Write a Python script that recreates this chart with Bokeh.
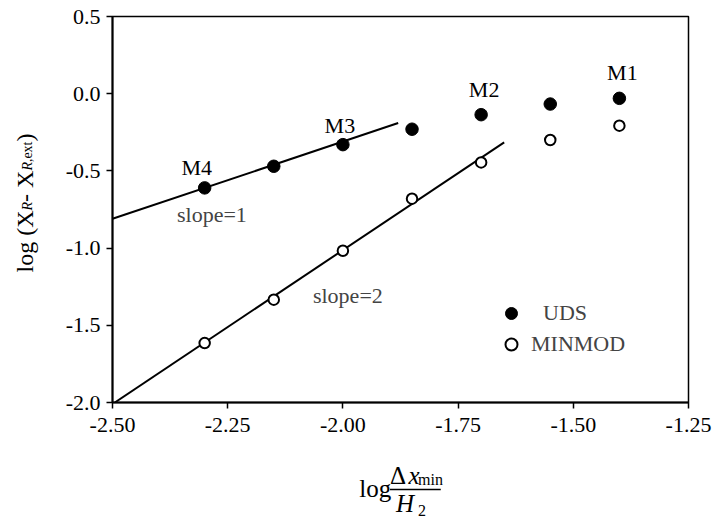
import math
from bokeh.plotting import figure
from bokeh.layouts import row, column
from bokeh.models import FixedTicker, Label, Legend, LegendItem, Range1d
from bokeh.embed import file_html
from bokeh.resources import INLINE

# ---- data ----
x_vals = [-2.30, -2.15, -2.00, -1.85, -1.70, -1.55, -1.40]
uds_y = [-0.61, -0.47, -0.33, -0.23, -0.136, -0.067, -0.03]
minmod_y = [-1.615, -1.334, -1.017, -0.68, -0.445, -0.30, -0.207]
model_names = ["M4", "M3", "M2", "M1"]
model_idx = [0, 2, 4, 6]
fit1_x = [-2.50, -1.88]
fit1_y = [-0.81, -0.19]
fit2_x = [-2.495, -1.65]
fit2_y = [-2.00, -0.315]
x_ticks = [-2.50, -2.25, -2.00, -1.75, -1.50, -1.25]
x_tick_labels = ["-2.50", "-2.25", "-2.00", "-1.75", "-1.50", "-1.25"]
y_ticks = [0.5, 0.0, -0.5, -1.0, -1.5, -2.0]
y_tick_labels = ["0.5", "0.0", "-0.5", "-1.0", "-1.5", "-2.0"]

FONT = "Liberation Serif"
W, H = 714, 519
LW = 56          # width of the y-label strip
MH = 450         # height of the main plot
BL = 8           # baseline correction (px) for alphabetic-baseline labels
XS = 17          # horizontal correction for the x-label strip
YS = 3           # horizontal correction for the y-label strip

# ---------------- main plot ----------------
p = figure(width=W - LW, height=MH, output_backend="svg", toolbar_location=None,
           x_range=Range1d(-2.5, -1.25), y_range=Range1d(-2.0, 0.5),
           min_border_left=112 - LW, min_border_right=26, min_border_top=16,
           min_border_bottom=MH - 402)
p.xgrid.visible = False
p.ygrid.visible = False
p.outline_line_color = "black"
p.outline_line_width = 1.5
p.background_fill_color = "white"
p.border_fill_color = "white"

for ax, ticks, labels in ((p.xaxis[0], x_ticks, x_tick_labels), (p.yaxis[0], y_ticks, y_tick_labels)):
    ax.ticker = FixedTicker(ticks=ticks)
    ax.major_label_overrides = {t: l for t, l in zip(ticks, labels)}
    ax.minor_tick_line_color = None
    ax.major_tick_in = 0
    ax.major_tick_out = 6
    ax.major_tick_line_width = 1.5
    ax.axis_line_width = 2
    ax.axis_line_color = "black"
    ax.major_tick_line_color = "black"
    ax.major_label_text_font = FONT
    ax.major_label_text_font_size = "22px"
    ax.major_label_text_color = "black"
p.xaxis[0].major_label_standoff = 9
p.yaxis[0].major_label_standoff = 6

p.line(fit1_x, fit1_y, line_color="black", line_width=2)
p.line(fit2_x, fit2_y, line_color="black", line_width=2)

r_uds = p.scatter(x_vals, uds_y, marker="circle", size=12.5, fill_color="black", line_color="black")
r_min = p.scatter(x_vals, minmod_y, marker="circle", size=10.5, fill_color="white",
                  line_color="black", line_width=2)

label_offsets = [(-8, 12), (-3, 11), (3, 17), (3, 18)]
for name, i, (dx, dy) in zip(model_names, model_idx, label_offsets):
    p.add_layout(Label(x=x_vals[i], y=uds_y[i], x_offset=dx, y_offset=dy + BL, text=name,
                       text_font=FONT, text_font_size="22px", text_align="center",
                       text_baseline="alphabetic", text_color="black"))

p.add_layout(Label(x=-2.36, y=-0.834, y_offset=BL, text="slope=1", text_font=FONT,
                   text_font_size="22px", text_align="left", text_baseline="alphabetic"))
p.add_layout(Label(x=-2.065, y=-1.358, y_offset=BL, text="slope=2", text_font=FONT,
                   text_font_size="22px", text_align="left", text_baseline="alphabetic"))

for r, name, loc, standoff in ((r_uds, "UDS", (384, 74), 17), (r_min, "MINMOD", (384, 43), 5)):
    lg = Legend(items=[LegendItem(label=name, renderers=[r])], location=loc,
                glyph_width=30, glyph_height=30, label_height=30, label_standoff=standoff,
                label_text_font=FONT, label_text_font_size="22px", padding=0, margin=0,
                spacing=0, border_line_color=None, background_fill_alpha=0)
    p.add_layout(lg)


def blank(width, height):
    f = figure(width=width, height=height, output_backend="svg", toolbar_location=None,
               x_range=Range1d(0, width), y_range=Range1d(0, height),
               x_axis_type=None, y_axis_type=None, min_border=0)
    f.xgrid.visible = False
    f.ygrid.visible = False
    f.outline_line_color = None
    f.background_fill_color = "white"
    f.border_fill_color = "white"
    return f


def lab(text, x, y, size, italic=False, angle=0.0):
    return Label(x=x, y=y, text=text, text_font=FONT, text_font_size=f"{size}px",
                 text_font_style="italic" if italic else "normal",
                 text_align="left", text_baseline="alphabetic", angle=angle, text_color="black")

# ---------------- y-axis label strip ----------------
ly = blank(LW, H)
A = math.pi / 2
def ylab(text, x_px, y_px, size, italic=False):
    return lab(text, x_px - BL - YS, H - y_px, size, italic, A)
ly.add_layout(ylab("log (X", 35, 272.0, 24))
ly.add_layout(ylab("R", 38, 210.0, 14, italic=True))
ly.add_layout(ylab("- X", 35, 201.45, 24))
ly.add_layout(ylab("R", 38, 170.1, 14, italic=True))
ly.add_layout(ylab(",ext", 38, 161.6, 14))
ly.add_layout(ylab(")", 35, 141.0, 24))

# ---------------- x-axis label strip ----------------
BH = H - MH
lx = blank(W - LW, BH)
def xlab(text, x_px, y_px, size, italic=False):
    return lab(text, x_px - LW - XS, H - y_px + BL, size, italic)
lx.add_layout(xlab("log", 355, 496, 25))
lx.add_layout(xlab("Δ", 390, 483, 25))
lx.add_layout(xlab("x", 411, 483, 25, italic=True))
lx.add_layout(xlab("min", 422, 487, 16))
lx.add_layout(xlab("H", 397, 511, 25, italic=True))
lx.add_layout(xlab("2", 422, 518, 16))
lx.line([390 - LW - XS, 448 - LW - XS], [H - 489, H - 489], line_color="black", line_width=1.5)

layout = row(ly, column(p, lx, spacing=0), spacing=0)
open("out.html", "w").write(file_html(layout, INLINE))
